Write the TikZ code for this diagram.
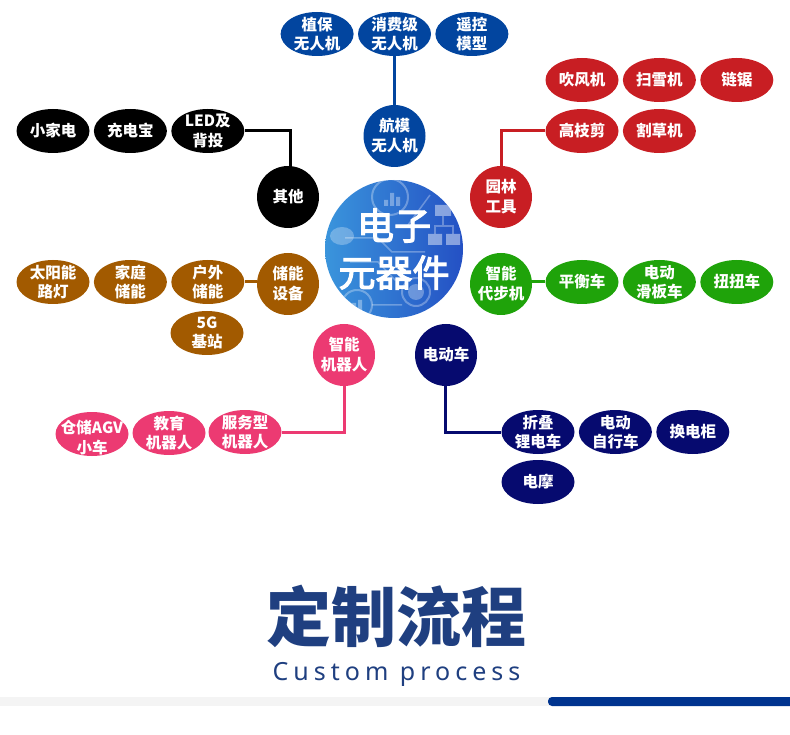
\documentclass[tikz,border=0pt]{standalone}
\usepackage{fontspec}
\setmainfont{Noto Sans CJK SC}
\newfontfamily\latinfont[LetterSpace=20]{Noto Sans}
\newfontfamily\corefont[FakeBold=3]{Noto Sans CJK SC}
\usepackage{tikz}
\usetikzlibrary{positioning}
\usetikzlibrary{shapes.geometric}
\definecolor{uavblue}{HTML}{02459F}
\definecolor{toolred}{HTML}{C81E23}
\definecolor{storebrown}{HTML}{A25A00}
\definecolor{walkgreen}{HTML}{1FA30A}
\definecolor{botpink}{HTML}{EC3A72}
\definecolor{evnavy}{HTML}{060A6F}
\definecolor{titleblue}{HTML}{1F3F80}
\definecolor{barblue}{HTML}{00348F}
\definecolor{bargray}{HTML}{F4F4F4}
\definecolor{discleft}{HTML}{3A95DC}
\definecolor{discmid}{HTML}{2F6FD0}
\definecolor{discright}{HTML}{2450C4}
\tikzset{
	item/.style={ellipse, minimum width=73pt, minimum height=44pt, inner sep=-8pt, align=center, text=white, font=\fontsize{15.5}{19.5}\selectfont\bfseries},
	hub/.style={circle, minimum size=62pt, inner sep=-8pt, align=center, text=white, font=\fontsize{15.5}{20}\selectfont\bfseries},
	link/.style={line width=3pt},
	trace/.style={white, opacity=0.3, line width=1.5pt}
}

\begin{document}
\begin{tikzpicture}[x=1pt, y=-1pt, node distance=4pt]
		\useasboundingbox (0,0) rectangle (790,735);

		% centre disc
		\begin{scope}
			\clip (394,249) circle (69);
			\shade[left color=discleft, middle color=discmid, right color=discright] (325,180) rectangle (463,318);
			\fill[white, opacity=0.45] (435,205) rectangle (451,216) (428,234) rectangle (442,245) (446,234) rectangle (460,245);
			\draw[trace] (443,216) -- (443,226) (435,234) -- (435,226) -- (453,226) -- (453,234);
			\draw[trace, line width=2pt] (390,197) circle (18) (416,292) circle (14) (357,305) circle (15);
			\fill[white, opacity=0.35] (384,200) rectangle (388,206) (390,193) rectangle (394,206) (396,197) rectangle (400,206) (352,303) rectangle (356,312) (358,300) rectangle (362,312);
			\fill[white, opacity=0.3] (416,292) circle (8);
			\draw[trace] (345,238) -- (378,238) -- (392,252) -- (425,252) (350,262) -- (378,262) -- (395,280) -- (402,280) (372,305) -- (402,305) (408,225) -- (430,195);
			\fill[white, opacity=0.28] (342,236) ellipse (12 and 9);
		\end{scope}
		\node[circle, minimum size=138pt, inner sep=-8pt, align=center, text=white, font=\fontsize{37}{47}\selectfont\corefont] (core) at (394,249) {电子\\元器件};

		% uav
		\node[item, fill=uavblue] (uavb) at (394.5,34) {消费级\\无人机};
		\node[item, fill=uavblue, left=of uavb] (uava) {植保\\无人机};
		\node[item, fill=uavblue, right=of uavb] (uavc) {遥控\\模型};
		\node[hub, fill=uavblue] (uav) at (394.5,136) {航模\\无人机};
		\draw[link, uavblue] (uavb.south) -- (uav.north);

		% garden tools
		\node[item, fill=toolred] (toola) at (582,80) {吹风机};
		\node[item, fill=toolred, right=of toola] (toolb) {扫雪机};
		\node[item, fill=toolred, right=of toolb] (toolc) {链锯};
		\node[item, fill=toolred] (toold) at (582,131) {高枝剪};
		\node[item, fill=toolred, right=of toold] (toole) {割草机};
		\node[hub, fill=toolred] (tool) at (501,197) {园林\\工具};
		\draw[link, toolred] (tool.north) |- (toold.west);

		% others
		\node[item, fill=black] (misca) at (53,131) {小家电};
		\node[item, fill=black, right=of misca] (miscb) {充电宝};
		\node[item, fill=black, right=of miscb] (miscc) {LED及\\背投};
		\node[hub, fill=black] (misc) at (288,197) {其他};
		\draw[link, black] (miscc.east) -| ([xshift=2pt]misc.north);

		% storage
		\node[item, fill=storebrown] (storea) at (53,282) {太阳能\\路灯};
		\node[item, fill=storebrown, right=of storea] (storeb) {家庭\\储能};
		\node[item, fill=storebrown, right=of storeb] (storec) {户外\\储能};
		\node[item, fill=storebrown] (stored) at (207,333) {5G\\基站};
		\node[hub, fill=storebrown] (store) at (288,284) {储能\\设备};
		\draw[link, storebrown] (storec.east) -- (storec.east -| store.west);

		% walkers
		\node[item, fill=walkgreen] (walka) at (582,282) {平衡车};
		\node[item, fill=walkgreen, right=of walka] (walkb) {电动\\滑板车};
		\node[item, fill=walkgreen, right=of walkb] (walkc) {扭扭车};
		\node[hub, fill=walkgreen] (walk) at (501,284) {智能\\代步机};
		\draw[link, walkgreen] (walk.east |- walka.west) -- (walka.west);

		% robots
		\node[item, fill=botpink] (botc) at (245,432) {服务型\\机器人};
		\node[item, fill=botpink] (botb) at (169,433) {教育\\机器人};
		\node[item, fill=botpink] (bota) at (92,434) {\rule{0pt}{20pt}仓储AGV\\小车};
		\node[hub, fill=botpink] (bot) at (344,355) {智能\\机器人};
		\draw[link, botpink] (bot.south) |- (botc.east);

		% e-vehicles
		\node[item, fill=evnavy] (eva) at (538,432) {折叠\\锂电车};
		\node[item, fill=evnavy, right=of eva] (evb) {电动\\自行车};
		\node[item, fill=evnavy, right=of evb] (evc) {换电柜};
		\node[item, fill=evnavy] (evd) at (538,482) {电摩};
		\node[hub, fill=evnavy] (ev) at (446,355) {电动车};
		\draw[link, evnavy] ([xshift=-1pt]ev.south) |- (eva.west);

		% title
		\node[text=titleblue, font=\fontsize{65}{70}\selectfont\bfseries] (title) at (396.5,616) {定制流程};
		\node[text=titleblue, font=\fontsize{25}{30}\selectfont\latinfont, below=8pt of title] (subtitle) {Custom process};

		% bar
		\fill[bargray] (0,697) rectangle (550,706);
		\fill[barblue, rounded corners=4pt] (548,697) rectangle (800,706);
	\end{tikzpicture}
\end{document}
